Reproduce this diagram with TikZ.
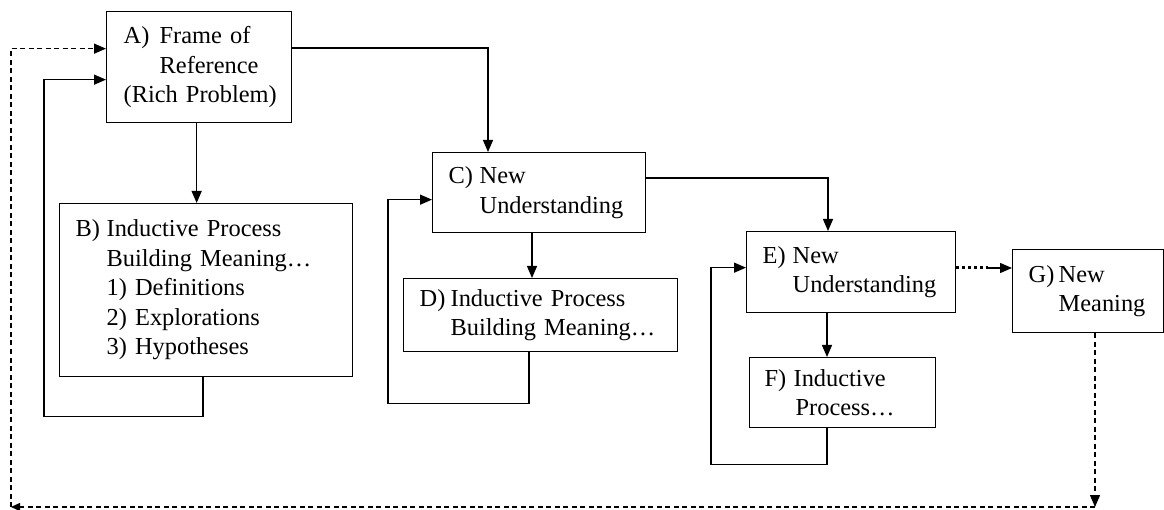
\documentclass[tikz,border=0pt]{standalone}
\usepackage{fontspec}
\setmainfont{Liberation Serif}
\usetikzlibrary{arrows.meta,positioning,calc}
\newcommand{\lbl}[2][31pt]{\makebox[#1][l]{#2}}
\newcommand{\ind}[1][31pt]{\hspace*{#1}}

\begin{document}
\begin{tikzpicture}[x=1pt,y=-1pt,
  box/.style={draw,line width=1.3pt,anchor=north west,inner xsep=16pt,inner ysep=0pt,
    align=left,font=\fontsize{24.4}{29.5}\selectfont},
  arr/.style={-{Triangle[length=12pt,width=10pt]},line width=1.3pt},
  back/.style={arr,dash pattern=on 5pt off 3.5pt},
  dots/.style={line width=3pt,dash pattern=on 3pt off 3pt}]
  \useasboundingbox (0,0) rectangle (1164,510);
  \node[box,text width=161pt,minimum height=111pt,inner xsep=12pt] (a) at (106,11)
    {\ind[5pt]\lbl[36pt]{A)}Frame of\\ \ind[41pt]Reference\\ \ind[5pt]\mbox{(Rich Problem)}};
  \node[box,text width=261pt,minimum height=173pt] (b) at (59,203)
    {\lbl{B)}Inductive Process\\ \ind Building Meaning…\\ \ind 1) Definitions\\
     \ind 2) Explorations\\ \ind 3) Hypotheses};
  \node[box,text width=181pt,minimum height=80pt] (c) at (432,152)
    {\lbl{C)}New\\ \ind Understanding};
  \node[box,text width=242pt,minimum height=73pt] (d) at (403,278)
    {\lbl{D)}Inductive Process\\ \ind Building Meaning…};
  \node[box,text width=177pt,minimum height=81pt] (e) at (746,231)
    {\lbl[30pt]{E)}New\\ \ind[30pt]Understanding};
  \node[box,text width=156pt,minimum height=70pt,inner xsep=15pt] (f) at (749,357)
    {\lbl[29pt]{F)}Inductive\\ \ind[31pt]Process…};
  \node[box,text width=119pt,minimum height=83pt] (g) at (1012,249)
    {\lbl[30pt]{G)}New\\ \ind[30pt]Meaning};
  \coordinate (eg) at (988,268);
  \coordinate (br) at (1095,507);
  \coordinate (bl) at (11,507);
  % forward arrows
  \draw[arr] ([xshift=-2.5pt]a.south) -- ([xshift=-2.5pt]a.south |- b.north);
  \draw[arr] ([yshift=-37pt]a.north east) -| ([xshift=56pt]c.north west);
  \draw[arr] ([xshift=100pt]c.south west) -- ([xshift=100pt]c.south west |- d.north);
  \draw[arr] ([yshift=-26pt]c.north east) -| ([xshift=82pt]e.north west);
  \draw[arr] ([xshift=81pt]e.south west) -- ([xshift=81pt]e.south west |- f.north);
  \draw[dots] ([yshift=-37pt]e.north east) -- (eg);
  \draw[arr] (eg) -- (eg -| g.west);
  % loops back
  \draw[arr] ([xshift=144pt]b.south west) |- ++(-159pt,-39pt) |- ([yshift=-12.5pt]a.west);
  \draw[arr] ([xshift=126pt]d.south west) |- ++(-141pt,-51pt) |- ([yshift=-7pt]c.west);
  \draw[arr] ([xshift=78pt]f.south west) |- ++(-116pt,-36pt) |- ([yshift=4.5pt]e.west);
  \draw[back] ([xshift=83pt]g.south west) -- (br);
  \draw[back,-{Triangle[length=9pt,width=8pt]}] (br) -- (bl);
  \draw[back] (bl) |- ([yshift=18.5pt]a.west);
\end{tikzpicture}
\end{document}
